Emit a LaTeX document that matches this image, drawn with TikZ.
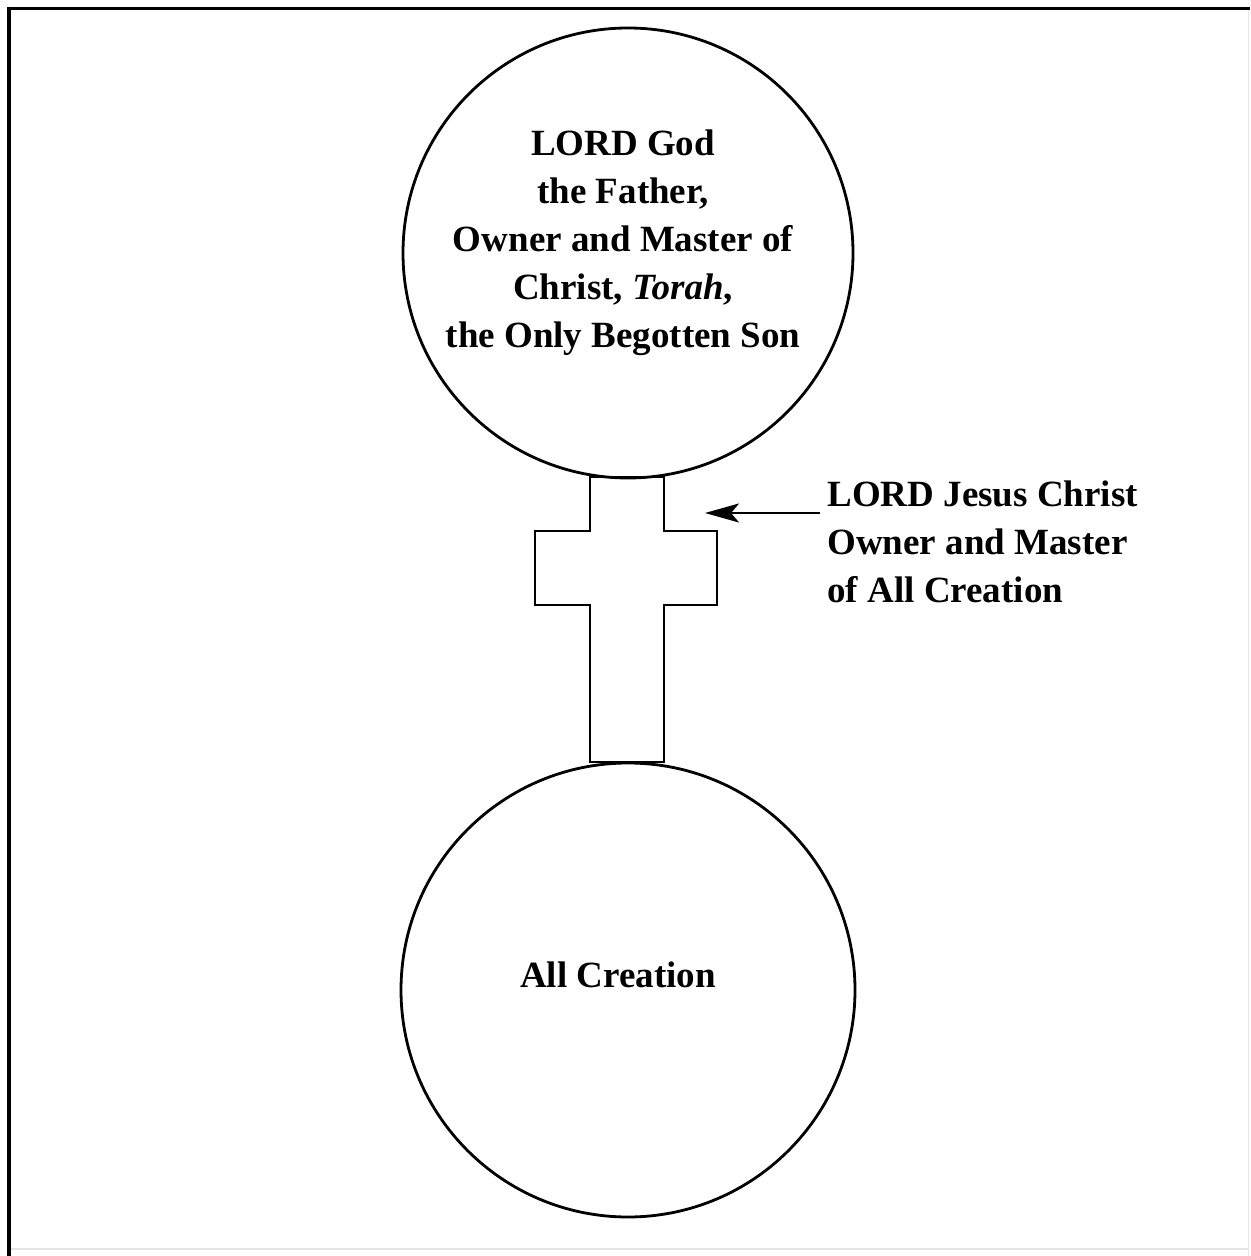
\documentclass[tikz,border=0pt]{standalone}
\usepackage{fontspec}
\setmainfont{Liberation Serif}
\usetikzlibrary{arrows.meta,positioning}

\begin{document}
\begin{tikzpicture}[
  x=0.5pt,y=-0.5pt,
  sphere/.style={draw,circle,line width=1.4pt,inner sep=0pt},
  caption/.style={font=\bfseries\fontsize{18.5}{24}\selectfont,align=center,inner sep=0pt},
  beam/.style={line width=1.4pt,line join=miter},
  pointer/.style={line width=1.3pt,-{Stealth[length=17pt,width=9.5pt,inset=4pt]}}
]
  \useasboundingbox (0,0) rectangle (1250,1256);
  % frame
  \draw[line width=1.75pt] (9,1256) -- (9,8.5) -- (1250,8.5);
  \draw[black!10,line width=0.6pt] (1248.5,10) -- (1248.5,1256) (11,1249) -- (1248.5,1249);

  \node[sphere,minimum size=225pt] (father) at (628,253) {};
  \node[sphere,minimum size=227pt] (creation) at (628,990) {};
  \node[caption] (fathertext) at (623,243)
    {LORD God\\the Father,\\Owner and Master of\\Christ, \textit{Torah},\\the Only Begotten Son};
  \node[caption] (creationtext) at (618,975) {All Creation};

  % cross
  \draw[beam] (590,477) -- (664,477) -- (664,531) -- (717,531) -- (717,605)
    -- (664,605) -- (664,762) -- (590,762) -- (590,605) -- (535,605)
    -- (535,531) -- (590,531) -- cycle;

  \coordinate (tip) at (705,513);
  \node[caption,align=left,anchor=west,inner sep=3.5pt] (jesus) at (820,542)
    {LORD Jesus Christ\\Owner and Master\\of All Creation};
  \draw[pointer] (jesus.west |- tip) -- (tip);
\end{tikzpicture}
\end{document}
